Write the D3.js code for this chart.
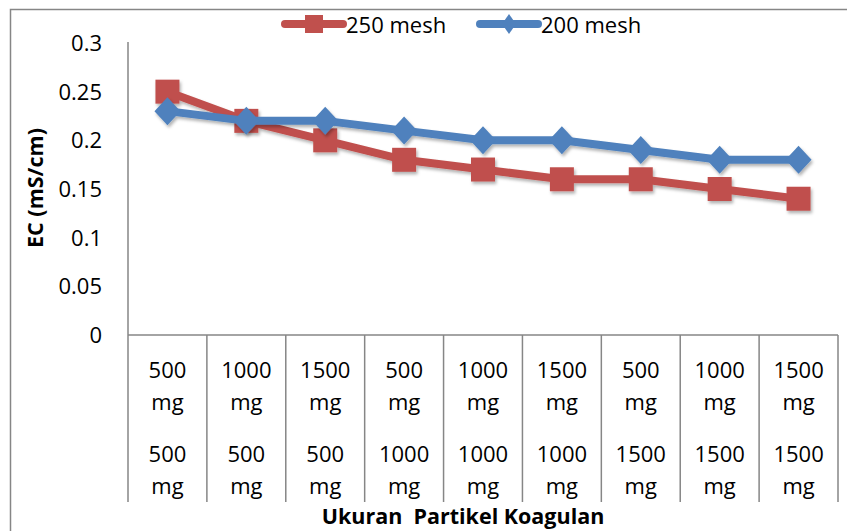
<!DOCTYPE html>
<html>
<head>
<meta charset="utf-8">
<script src="https://cdn.jsdelivr.net/npm/d3@7"></script>
<style>
  body { margin: 0; background: #fff; }
  text { font-family: "Open Sans", "Liberation Sans", sans-serif; fill: #000; }
</style>
</head>
<body>
<div id="chart"></div>
<script>
// data
var dosisAtas = ["500 mg", "1000 mg", "1500 mg", "500 mg", "1000 mg", "1500 mg", "500 mg", "1000 mg", "1500 mg"];
var dosisBawah = ["500 mg", "500 mg", "500 mg", "1000 mg", "1000 mg", "1000 mg", "1500 mg", "1500 mg", "1500 mg"];
var mesh250 = [0.25, 0.22, 0.20, 0.18, 0.17, 0.16, 0.16, 0.15, 0.14];
var mesh200 = [0.23, 0.22, 0.22, 0.21, 0.20, 0.20, 0.19, 0.18, 0.18];
var yTicks = [0, 0.05, 0.1, 0.15, 0.2, 0.25, 0.3];
var seriesNames = ["250 mesh", "200 mesh"];

var width = 847, height = 531;
var red = "#C0504D", blue = "#4F81BD", axisCol = "#868686";

var svg = d3.select("#chart").append("svg")
  .attr("width", width)
  .attr("height", height);

var defs = svg.append("defs");
defs.append("filter").attr("id", "shadow")
  .attr("x", "-30%").attr("y", "-30%").attr("width", "170%").attr("height", "170%")
  .append("feDropShadow")
  .attr("dx", 1.5).attr("dy", 2.5).attr("stdDeviation", 1.5)
  .attr("flood-color", "#000").attr("flood-opacity", 0.3);

// outer frame (right and bottom fall outside the picture)
svg.append("path")
  .attr("d", "M10.5,540 L10.5,9.5 L860,9.5")
  .attr("fill", "none")
  .attr("stroke", axisCol)
  .attr("stroke-width", 1.5);

var plotLeft = 128, plotRight = 838, plotTop = 43, plotBottom = 335;

var idx = d3.range(dosisAtas.length);
var x = d3.scaleBand().domain(idx).range([plotLeft, plotRight]);
var y = d3.scaleLinear().domain([0, 0.3]).range([plotBottom, plotTop]);

// y axis
svg.append("line")
  .attr("x1", plotLeft).attr("x2", plotLeft)
  .attr("y1", plotTop - 1).attr("y2", plotBottom)
  .attr("stroke", axisCol).attr("stroke-width", 1.5);

svg.selectAll(".ytick")
  .data(yTicks)
  .enter().append("text")
  .attr("class", "ytick")
  .attr("x", 102)
  .attr("y", function(d) { return y(d); })
  .attr("dy", "0.36em")
  .attr("text-anchor", "end")
  .style("font-size", "22px")
  .text(function(d) { return d; });

// x axis with category separators
svg.append("line")
  .attr("x1", plotLeft).attr("x2", plotRight)
  .attr("y1", plotBottom).attr("y2", plotBottom)
  .attr("stroke", axisCol).attr("stroke-width", 1.5);

var seps = idx.map(function(i) { return x(i); }).concat([plotRight]);
svg.selectAll(".sep")
  .data(seps)
  .enter().append("line")
  .attr("class", "sep")
  .attr("x1", function(d) { return d; }).attr("x2", function(d) { return d; })
  .attr("y1", plotBottom).attr("y2", 502)
  .attr("stroke", axisCol).attr("stroke-width", 1.5);

var labelRows = [
  { data: dosisAtas, y: 378 },
  { data: dosisBawah, y: 462 }
];
labelRows.forEach(function(row) {
  var t = svg.selectAll(null)
    .data(row.data)
    .enter().append("text")
    .attr("x", function(d, i) { return x(i) + x.bandwidth() / 2; })
    .attr("y", row.y)
    .attr("text-anchor", "middle")
    .style("font-size", "22px");
  t.append("tspan")
    .attr("x", function(d, i) { return x(i) + x.bandwidth() / 2; })
    .text(function(d) { return d.split(" ")[0]; });
  t.append("tspan")
    .attr("x", function(d, i) { return x(i) + x.bandwidth() / 2; })
    .attr("dy", 32)
    .text(function(d) { return d.split(" ")[1]; });
});

// axis titles
svg.append("text")
  .attr("transform", "translate(43,188) rotate(-90)")
  .attr("text-anchor", "middle")
  .style("font-size", "21.5px")
  .style("font-weight", "bold")
  .text("EC (mS/cm)");

svg.append("text")
  .attr("x", 463)
  .attr("y", 524)
  .attr("text-anchor", "middle")
  .style("font-size", "21.5px")
  .style("font-weight", "bold")
  .style("white-space", "pre")
  .attr("xml:space", "preserve")
  .text("Ukuran  Partikel Koagulan");

// series
var line = d3.line()
  .x(function(d, i) { return x(i) + x.bandwidth() / 2; })
  .y(function(d) { return y(d); });

var square = d3.symbol().type(d3.symbolSquare).size(24 * 24);
var diamondPath = function(w, h) {
  return "M0," + (-h / 2) + "L" + (w / 2) + ",0L0," + (h / 2) + "L" + (-w / 2) + ",0Z";
};

var series = [
  { name: seriesNames[0], values: mesh250, color: red, marker: square() },
  { name: seriesNames[1], values: mesh200, color: blue, marker: diamondPath(26, 28) }
];

series.forEach(function(s) {
  var g = svg.append("g").attr("filter", "url(#shadow)");
  g.append("path")
    .datum(s.values)
    .attr("d", line)
    .attr("fill", "none")
    .attr("stroke", s.color)
    .attr("stroke-width", 8)
    .attr("stroke-linejoin", "round")
    .attr("stroke-linecap", "round");
  g.selectAll(null)
    .data(s.values)
    .enter().append("path")
    .attr("d", s.marker)
    .attr("transform", function(d, i) {
      return "translate(" + (x(i) + x.bandwidth() / 2) + "," + y(d) + ")";
    })
    .attr("fill", s.color);
});

// legend
var legendItems = [
  { name: seriesNames[0], color: red, x0: 285, marker: d3.symbol().type(d3.symbolSquare).size(18 * 18)() },
  { name: seriesNames[1], color: blue, x0: 480, marker: diamondPath(14, 20) }
];
legendItems.forEach(function(l) {
  var g = svg.append("g");
  g.append("line")
    .attr("x1", l.x0).attr("x2", l.x0 + 58)
    .attr("y1", 24).attr("y2", 24)
    .attr("stroke", l.color).attr("stroke-width", 8)
    .attr("stroke-linecap", "round");
  g.append("path")
    .attr("d", l.marker)
    .attr("transform", "translate(" + (l.x0 + 29) + ",24)")
    .attr("fill", l.color);
  g.append("text")
    .attr("x", l.x0 + 61)
    .attr("y", 33)
    .style("font-size", "22px")
    .text(l.name);
});
</script>
</body>
</html>
